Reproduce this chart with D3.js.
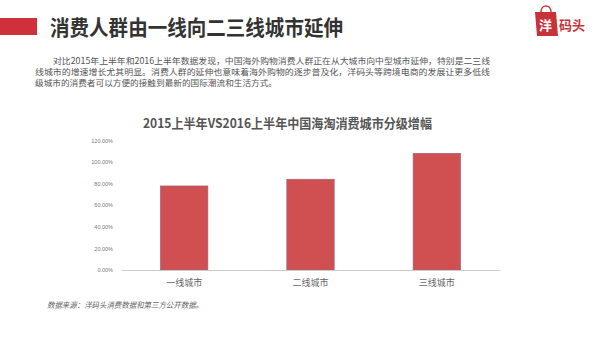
<!DOCTYPE html>
<html><head><meta charset="utf-8">
<script src="https://cdn.jsdelivr.net/npm/d3@7"></script>
<style>body{margin:0;background:#fff;}svg{display:block;}</style>
</head><body>
<svg id="c" width="605" height="337"></svg>
<script>
const categories = ["一线城市", "二线城市", "三线城市"];
const growth = [0.778, 0.84, 1.08];
const yTicks = [0, 0.2, 0.4, 0.6, 0.8, 1.0, 1.2];
const pageTitle = "消费人群由一线向二三线城市延伸";
const paragraph = [
  "对比2015年上半年和2016上半年数据发现，中国海外购物消费人群正在从大城市向中型城市延伸，特别是二三线",
  "线城市的增速增长尤其明显。消费人群的延伸也意味着海外购物的逐步普及化，洋码头等跨境电商的发展让更多低线",
  "级城市的消费者可以方便的接触到最新的国际潮流和生活方式。"
];
const chartTitle = "2015上半年VS2016上半年中国海淘消费城市分级增幅";
const source = "数据来源：洋码头消费数据和第三方公开数据。";

const svg = d3.select("#c");
const font = "'Noto Sans CJK SC','Microsoft YaHei',sans-serif";

// header
svg.append("rect").attr("x",0).attr("y",18).attr("width",37).attr("height",17).attr("fill","#d0303a");
svg.append("text").attr("x",50).attr("y",34.5).attr("font-family",font).attr("font-weight","bold")
  .attr("font-size",21).attr("fill","#333").attr("textLength",293).attr("lengthAdjust","spacingAndGlyphs").text(pageTitle);

// logo
const logo = svg.append("g");
logo.append("path").attr("d","M535,12 L556,12 L558,36 L537,36 Z").attr("fill","#c8323a");
logo.append("path").attr("d","M541,12 C541,4 551,4 551,12").attr("fill","none").attr("stroke","#c8323a").attr("stroke-width",1.5);
logo.append("text").attr("x",539).attr("y",30).attr("font-family",font).attr("font-weight","bold").attr("font-size",13).attr("fill","#fff").text("洋");
logo.append("text").attr("x",559).attr("y",30).attr("font-family",font).attr("font-weight","bold").attr("font-size",13).attr("fill","#c8323a").text("码头");

// paragraph
const px = [53,35,35], pw=[437,455,242], py=[64,75,86];
paragraph.forEach((t,i)=>{
  svg.append("text").attr("x",px[i]).attr("y",py[i]).attr("font-family",font)
    .attr("font-size",8.5).attr("fill","#555").attr("textLength",pw[i]).attr("lengthAdjust","spacingAndGlyphs").text(t);
});

// chart title
svg.append("text").attr("x",143).attr("y",128).attr("font-family",font).attr("font-weight","bold")
  .attr("font-size",13).attr("fill","#555").attr("textLength",289).attr("lengthAdjust","spacingAndGlyphs").text(chartTitle);

// scales
const x = d3.scaleBand().domain(categories).range([121,500]).paddingInner(0.625).paddingOuter(0.3125);
const y = d3.scaleLinear().domain([0,1.2]).range([270,140.4]);

const yAxis = svg.append("g").attr("transform","translate(116,0)")
  .call(d3.axisLeft(y).tickValues(yTicks).tickFormat(d3.format(".2%")).tickSize(0));
yAxis.select(".domain").remove();
yAxis.selectAll("text").attr("font-family","'Liberation Sans',Arial,sans-serif").attr("font-size",5.5).attr("fill","#777");

svg.selectAll("rect.bar").data(categories).enter().append("rect").attr("class","bar")
  .attr("x",d=>x(d)).attr("width",x.bandwidth())
  .attr("y",(d,i)=>y(growth[i])).attr("height",(d,i)=>y(0)-y(growth[i]))
  .attr("fill","#d05052").attr("stroke","#a0607e").attr("stroke-width",0.7);

const xAxis = svg.append("g").attr("transform","translate(0,270)")
  .call(d3.axisBottom(x).tickSize(0).tickPadding(10));
xAxis.select(".domain").attr("stroke","#ccc");
xAxis.selectAll("text").attr("font-family",font).attr("font-size",9).attr("fill","#666");

// source
svg.append("text").attr("x",47).attr("y",308).attr("font-family",font).attr("font-style","italic")
  .attr("font-size",8).attr("fill","#666").attr("textLength",156).attr("lengthAdjust","spacingAndGlyphs").text(source);
</script>
</body></html>
